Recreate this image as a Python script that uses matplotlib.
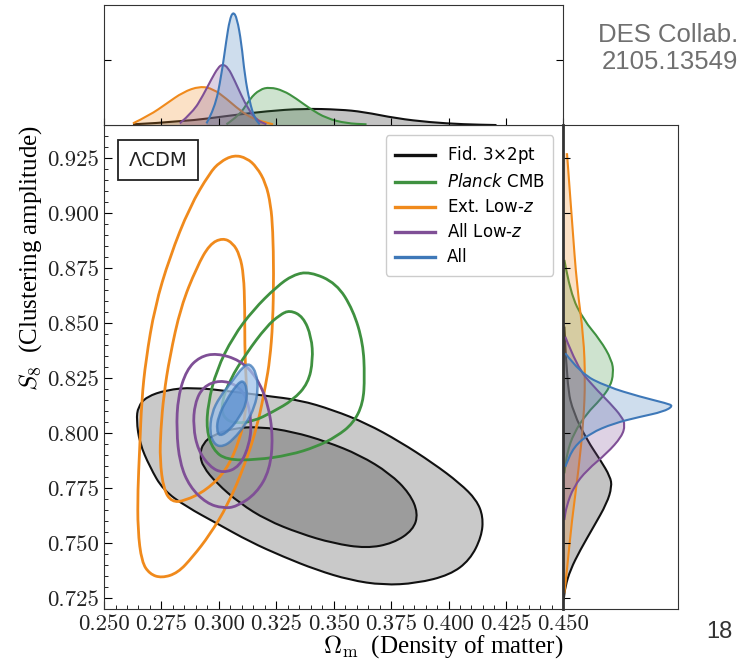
import numpy as np
import matplotlib.pyplot as plt
from matplotlib.path import Path
from matplotlib.patches import PathPatch
from matplotlib.lines import Line2D
from matplotlib.font_manager import FontProperties
from matplotlib.ticker import MultipleLocator, FormatStrFormatter

plt.rcParams['font.family'] = 'cmr10'
plt.rcParams['axes.formatter.use_mathtext'] = True
plt.rcParams['mathtext.fontset'] = 'cm'

# --- 2D contours (Omega_m, S8) ---
gray_out_om = [0.2641, 0.2648, 0.2685, 0.2772, 0.2888, 0.3062, 0.3207, 0.3352, 0.3497, 0.3643,
               0.3788, 0.3933, 0.4049, 0.4122, 0.4151, 0.4144, 0.4093, 0.4006, 0.3861, 0.3715,
               0.3570, 0.3425, 0.3280, 0.3135, 0.2990, 0.2859, 0.2757, 0.2699, 0.2655]
gray_out_s8 = [0.8060, 0.8121, 0.8166, 0.8197, 0.8209, 0.8189, 0.8170, 0.8151, 0.8106, 0.8045,
               0.7962, 0.7864, 0.7773, 0.7697, 0.7621, 0.7530, 0.7424, 0.7356, 0.7318, 0.7310,
               0.7333, 0.7379, 0.7439, 0.7507, 0.7591, 0.7666, 0.7742, 0.7848, 0.7955]
gray_in_om = [0.2917, 0.2931, 0.2975, 0.3062, 0.3178, 0.3323, 0.3469, 0.3614, 0.3744, 0.3831,
              0.3868, 0.3846, 0.3759, 0.3643, 0.3497, 0.3352, 0.3207, 0.3091, 0.2990, 0.2931]
gray_in_s8 = [0.7901, 0.7955, 0.7992, 0.8023, 0.8030, 0.8007, 0.7962, 0.7901, 0.7818, 0.7727,
              0.7636, 0.7560, 0.7500, 0.7477, 0.7500, 0.7545, 0.7606, 0.7682, 0.7773, 0.7848]

orange_out_om = [0.3065, 0.3122, 0.3165, 0.3204, 0.3226, 0.3235, 0.3239, 0.3235, 0.3222, 0.3204,
                 0.3169, 0.3113, 0.3039, 0.2960, 0.2886, 0.2821, 0.2751, 0.2699, 0.2664, 0.2647,
                 0.2647, 0.2655, 0.2664, 0.2682, 0.2721, 0.2786, 0.2873, 0.2960, 0.3004]
orange_out_s8 = [0.9265, 0.9251, 0.9210, 0.9138, 0.9038, 0.8924, 0.8729, 0.8501, 0.8333, 0.8220,
                 0.8038, 0.7856, 0.7674, 0.7538, 0.7438, 0.7365, 0.7342, 0.7360, 0.7415, 0.7560,
                 0.7742, 0.7924, 0.8151, 0.8333, 0.8574, 0.8801, 0.9029, 0.9183, 0.9233]
orange_in_om = [0.3017, 0.3061, 0.3091, 0.3108, 0.3113, 0.3113, 0.3122, 0.3117, 0.3091, 0.3034,
                0.2947, 0.2851, 0.2795, 0.2760, 0.2743, 0.2747, 0.2760, 0.2786, 0.2834, 0.2904, 0.2960]
orange_in_s8 = [0.8888, 0.8865, 0.8810, 0.8720, 0.8574, 0.8347, 0.8197, 0.8092, 0.7970, 0.7833,
                0.7742, 0.7692, 0.7688, 0.7742, 0.7879, 0.8015, 0.8174, 0.8347, 0.8574, 0.8756, 0.8860]

green_out_om = [0.3396, 0.3512, 0.3585, 0.3628, 0.3635, 0.3628, 0.3585, 0.3512, 0.3425, 0.3309,
                0.3164, 0.3033, 0.2975, 0.2946, 0.2953, 0.2990, 0.3062, 0.3149, 0.3251, 0.3323]
green_out_s8 = [0.8735, 0.8682, 0.8560, 0.8409, 0.8257, 0.8136, 0.8045, 0.7985, 0.7939, 0.7901,
                0.7879, 0.7879, 0.7924, 0.8015, 0.8136, 0.8288, 0.8439, 0.8560, 0.8666, 0.8720]
green_in_om = [0.3309, 0.3367, 0.3403, 0.3410, 0.3389, 0.3323, 0.3236, 0.3149, 0.3062, 0.3018,
               0.3011, 0.3047, 0.3120, 0.3207, 0.3265]
green_in_s8 = [0.8560, 0.8530, 0.8439, 0.8333, 0.8227, 0.8151, 0.8098, 0.8053, 0.8045, 0.8075,
               0.8136, 0.8242, 0.8364, 0.8485, 0.8538]

purple_out_om = [0.2990, 0.3091, 0.3164, 0.3214, 0.3236, 0.3222, 0.3164, 0.3077, 0.3018, 0.2946,
                 0.2873, 0.2830, 0.2815, 0.2822, 0.2859, 0.2917]
purple_out_s8 = [0.8364, 0.8333, 0.8257, 0.8136, 0.7985, 0.7833, 0.7727, 0.7666, 0.7659, 0.7682,
                 0.7757, 0.7864, 0.8015, 0.8166, 0.8288, 0.8348]
purple_in_om = [0.3004, 0.3077, 0.3120, 0.3142, 0.3135, 0.3091, 0.3018, 0.2960, 0.2909, 0.2888,
                0.2895, 0.2931]
purple_in_s8 = [0.8242, 0.8220, 0.8166, 0.8060, 0.7955, 0.7848, 0.7818, 0.7848, 0.7924, 0.8030,
                0.8136, 0.8212]

blue_out_om = [0.3135, 0.3164, 0.3171, 0.3156, 0.3120, 0.3062, 0.3018, 0.2982, 0.2960, 0.2968,
               0.3004, 0.3062, 0.3105]
blue_out_s8 = [0.8318, 0.8273, 0.8197, 0.8121, 0.8045, 0.7970, 0.7939, 0.7947, 0.8000, 0.8091,
               0.8166, 0.8242, 0.8303]
blue_in_om = [0.3105, 0.3123, 0.3120, 0.3091, 0.3047, 0.3004, 0.2990, 0.2997, 0.3033, 0.3077]
blue_in_s8 = [0.8242, 0.8205, 0.8136, 0.8075, 0.8015, 0.7985, 0.8015, 0.8075, 0.8151, 0.8220]

# --- 1D marginals (relative height) ---
top_black_om = [0.2626, 0.2844, 0.3062, 0.3207, 0.3367, 0.3527, 0.3628, 0.3774, 0.3919, 0.4064, 0.4209]
top_black_p = [0.008, 0.030, 0.084, 0.117, 0.139, 0.131, 0.112, 0.057, 0.025, 0.008, 0.002]
top_green_om = [0.3033, 0.3091, 0.3135, 0.3178, 0.3222, 0.3280, 0.3338, 0.3396, 0.3469, 0.3556, 0.3643]
top_green_p = [0.008, 0.084, 0.221, 0.298, 0.317, 0.289, 0.221, 0.139, 0.057, 0.016, 0.008]
top_orange_om = [0.2626, 0.2699, 0.2772, 0.2844, 0.2917, 0.2975, 0.3033, 0.3091, 0.3149, 0.3236]
top_orange_p = [0.016, 0.084, 0.180, 0.276, 0.325, 0.303, 0.221, 0.125, 0.052, 0.008]
top_purple_om = [0.2830, 0.2888, 0.2931, 0.2968, 0.2997, 0.3016, 0.3040, 0.3069, 0.3098, 0.3127, 0.3164, 0.3207]
top_purple_p = [0.016, 0.112, 0.248, 0.385, 0.481, 0.508, 0.481, 0.371, 0.248, 0.139, 0.043, 0.008]
top_blue_om = [0.2946, 0.2982, 0.3011, 0.3033, 0.3047, 0.3062, 0.3079, 0.3098, 0.3113, 0.3134, 0.3156, 0.3178]
top_blue_p = [0.016, 0.139, 0.413, 0.713, 0.877, 0.945, 0.891, 0.686, 0.413, 0.194, 0.057, 0.008]

right_black_s8 = [0.8485, 0.8212, 0.8091, 0.7970, 0.7879, 0.7803, 0.7757, 0.7682, 0.7575, 0.7470, 0.7379, 0.7303, 0.7242]
right_black_p = [0.009, 0.032, 0.090, 0.206, 0.322, 0.409, 0.423, 0.380, 0.264, 0.148, 0.061, 0.017, 0.003]
right_green_s8 = [0.8788, 0.8636, 0.8515, 0.8424, 0.8333, 0.8273, 0.8212, 0.8152, 0.8091, 0.8000, 0.7909, 0.7818]
right_green_p = [0.009, 0.061, 0.177, 0.322, 0.423, 0.438, 0.409, 0.322, 0.206, 0.090, 0.032, 0.009]
right_orange_s8 = [0.9273, 0.8970, 0.8666, 0.8439, 0.8242, 0.8061, 0.7833, 0.7606, 0.7379, 0.7273]
right_orange_p = [0.032, 0.075, 0.119, 0.177, 0.191, 0.177, 0.133, 0.075, 0.032, 0.009]
right_purple_s8 = [0.8439, 0.8303, 0.8212, 0.8136, 0.8075, 0.8038, 0.7985, 0.7909, 0.7833, 0.7757, 0.7666, 0.7606]
right_purple_p = [0.017, 0.119, 0.264, 0.409, 0.510, 0.539, 0.510, 0.380, 0.206, 0.090, 0.026, 0.009]
right_blue_s8 = [0.8364, 0.8273, 0.8212, 0.8166, 0.8136, 0.8124, 0.8098, 0.8075, 0.8045, 0.8000, 0.7939, 0.7848]
right_blue_p = [0.017, 0.148, 0.380, 0.670, 0.902, 0.959, 0.872, 0.670, 0.438, 0.235, 0.090, 0.017]

labels = ['Fid. 3$\\times$2pt', '$\\it{Planck}$ CMB', 'Ext. Low-$z$', 'All Low-$z$', 'All']

c_black = '#111111'
c_green = '#3f9140'
c_orange = '#f08a1c'
c_purple = '#7f4f96'
c_blue = '#3e78b8'


def closed_path(xs, ys):
    # read points are used as control points, matplotlib draws the smooth beziers
    pts = np.column_stack([xs, ys])
    mids = (pts + np.roll(pts, -1, axis=0)) / 2
    verts = [mids[-1]]
    codes = [Path.MOVETO]
    for p, m in zip(pts, mids):
        verts += [p, m]
        codes += [Path.CURVE3, Path.CURVE3]
    return Path(verts, codes)


def open_path(xs, ys):
    pts = np.column_stack([xs, ys])
    verts, codes = [pts[0]], [Path.MOVETO]
    for i in range(1, len(pts) - 1):
        verts += [pts[i], (pts[i] + pts[i + 1]) / 2]
        codes += [Path.CURVE3, Path.CURVE3]
    verts.append(pts[-1])
    codes.append(Path.LINETO)
    return np.array(verts), codes


def marginal(ax, xs, ys, color, horizontal=True):
    if horizontal:
        v, c = open_path(xs, ys)
        fv = np.vstack([[v[0][0], 0], v, [v[-1][0], 0], [v[0][0], 0]])
    else:
        v, c = open_path(ys, xs)
        fv = np.vstack([[0, v[0][1]], v, [0, v[-1][1]], [0, v[0][1]]])
    fc = [Path.MOVETO, Path.LINETO] + c[1:] + [Path.LINETO, Path.CLOSEPOLY]
    ax.add_patch(PathPatch(Path(fv, fc), facecolor=color, edgecolor='none', alpha=0.25))
    ax.add_patch(PathPatch(Path(v, c), facecolor='none', edgecolor=color, lw=1.5))


fig = plt.figure(figsize=(7.49, 6.65), dpi=100)
ax = fig.add_axes([0.1389, 0.0838, 0.6132, 0.7278])
ax_top = fig.add_axes([0.1389, 0.8116, 0.6132, 0.1809])
ax_r = fig.add_axes([0.7521, 0.0838, 0.1531, 0.7278])

# main panel
ax.add_patch(PathPatch(closed_path(gray_out_om, gray_out_s8), facecolor='#c9c9c9', edgecolor=c_black, lw=1.5))
ax.add_patch(PathPatch(closed_path(gray_in_om, gray_in_s8), facecolor='#9c9c9c', edgecolor=c_black, lw=1.5))
for xs, ys, col in [(orange_out_om, orange_out_s8, c_orange), (orange_in_om, orange_in_s8, c_orange),
                    (green_out_om, green_out_s8, c_green), (green_in_om, green_in_s8, c_green),
                    (purple_out_om, purple_out_s8, c_purple), (purple_in_om, purple_in_s8, c_purple)]:
    ax.add_patch(PathPatch(closed_path(xs, ys), facecolor='none', edgecolor=col, lw=2.0))
ax.add_patch(PathPatch(closed_path(blue_out_om, blue_out_s8), facecolor='#9fc2ea', edgecolor=c_blue, lw=1.8, alpha=0.75))
ax.add_patch(PathPatch(closed_path(blue_in_om, blue_in_s8), facecolor='#5b8fd0', edgecolor=c_blue, lw=1.8, alpha=0.75))

ax.set_xlim(0.25, 0.45)
ax.set_ylim(0.72, 0.94)
ax.xaxis.set_major_locator(MultipleLocator(0.025))
ax.xaxis.set_minor_locator(MultipleLocator(0.005))
ax.yaxis.set_major_locator(MultipleLocator(0.025))
ax.yaxis.set_minor_locator(MultipleLocator(0.005))
ax.xaxis.set_major_formatter(FormatStrFormatter('%.3f'))
ax.yaxis.set_major_formatter(FormatStrFormatter('%.3f'))
ax.tick_params(which='both', direction='in', labelsize=16.5, labelcolor='#222222')
ax.tick_params(which='major', length=6)
ax.tick_params(which='minor', length=3)
ax.set_xlabel('$\\Omega_{\\rm m}$  (Density of matter)', loc='right', fontsize=18,
              fontfamily='Liberation Serif', labelpad=0)
ax.set_ylabel('$S_8$  (Clustering amplitude)', loc='top', fontsize=18,
              fontfamily='Liberation Serif', labelpad=2)

ax.text(0.118, 0.928, '\u039bCDM', transform=ax.transAxes, ha='center', va='center',
        fontsize=14, fontfamily='DejaVu Sans', color='#222222',
        bbox=dict(boxstyle='square,pad=0.55', facecolor='white', edgecolor='#222222', lw=1.3))

handles = [Line2D([], [], color=c, lw=2.4) for c in [c_black, c_green, c_orange, c_purple, c_blue]]
ax.legend(handles, labels, loc='upper right', borderaxespad=0.6, handlelength=2.4,
          handletextpad=0.7, labelspacing=0.42, borderpad=0.55, edgecolor='#cccccc',
          framealpha=1, prop=FontProperties(family='DejaVu Sans', size=12, math_fontfamily='dejavusans'))

# top marginal
for xs, ys, col in [(top_black_om, top_black_p, c_black), (top_green_om, top_green_p, c_green),
                    (top_orange_om, top_orange_p, c_orange), (top_purple_om, top_purple_p, c_purple),
                    (top_blue_om, top_blue_p, c_blue)]:
    marginal(ax_top, xs, ys, col, horizontal=True)
ax_top.set_xlim(0.25, 0.45)
ax_top.set_ylim(0, 1)
ax_top.xaxis.set_major_locator(MultipleLocator(0.025))
ax_top.set_yticks([0.54])
ax_top.tick_params(direction='in', labelbottom=False, labelleft=False, right=True, length=5)

# right marginal
for xs, ys, col in [(right_black_s8, right_black_p, c_black), (right_green_s8, right_green_p, c_green),
                    (right_orange_s8, right_orange_p, c_orange), (right_purple_s8, right_purple_p, c_purple),
                    (right_blue_s8, right_blue_p, c_blue)]:
    marginal(ax_r, xs, ys, col, horizontal=False)
ax_r.set_ylim(0.72, 0.94)
ax_r.set_xlim(0, 1)
ax_r.yaxis.set_major_locator(MultipleLocator(0.025))
ax_r.set_xticks([])
ax_r.tick_params(direction='in', labelleft=False, length=5)
ax_r.spines['left'].set_linewidth(2)

for a in [ax, ax_top, ax_r]:
    for s in a.spines.values():
        s.set_color('#333333')

fig.text(0.985, 0.947, 'DES Collab.', ha='right', va='center', fontsize=18.5,
         fontfamily='Liberation Sans', color='#707070')
fig.text(0.985, 0.907, '2105.13549', ha='right', va='center', fontsize=18.5,
         fontfamily='Liberation Sans', color='#707070')
fig.text(0.961, 0.05, '18', ha='center', va='center', fontsize=17,
         fontfamily='Liberation Sans', color='#333333')

fig.savefig('out.png', dpi=100)
